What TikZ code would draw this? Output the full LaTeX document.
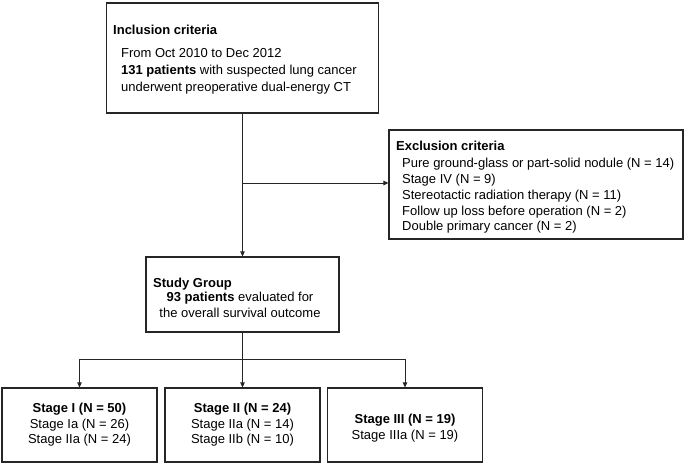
\documentclass[tikz,border=0pt]{standalone}
\usepackage{fontspec}
\setmainfont{Liberation Sans}
\usetikzlibrary{arrows.meta}
\begin{document}
\begin{tikzpicture}[x=1pt,y=-1pt,
  box/.style={draw=black!85, line width=1.2pt, inner sep=0pt},
  txt/.style={inner sep=0pt, font=\fontsize{13}{16}\selectfont},
  conn/.style={draw=black!85, line width=1pt},
  arr/.style={conn, -{Triangle[length=5pt,width=4.5pt]}}]
\useasboundingbox (0,0) rectangle (685,464);
% boxes
\node[box, minimum width=272pt, minimum height=110pt] (inc) at (242.5,58) {};
\node[box, minimum width=294pt, minimum height=109pt] (exc) at (536,184.5) {};
\node[box, minimum width=193pt, minimum height=75pt] (study) at (242.5,294.5) {};
\node[box, minimum width=155pt, minimum height=74pt] (s1) at (79.5,425) {};
\node[box, minimum width=155pt, minimum height=74pt] (s2) at (242.5,425) {};
\node[box, minimum width=155pt, minimum height=74pt] (s3) at (405,425) {};
% texts
\node[txt, anchor=base west] (inct) at (113,34) {\textbf{Inclusion criteria}};
\node[txt, anchor=north west, align=left, font=\fontsize{13}{17}\selectfont] (incb) at (121,48)
  {From Oct 2010 to Dec 2012\\\textbf{131 patients} with suspected lung cancer\\underwent preoperative dual-energy CT};
\node[txt, anchor=base west] (exct) at (396,150) {\textbf{Exclusion criteria}};
\node[txt, anchor=north west, align=left, font=\fontsize{13}{15.8}\selectfont] (excb) at (402,158)
  {Pure ground-glass or part-solid nodule (N = 14)\\Stage IV (N = 9)\\Stereotactic radiation therapy (N = 11)\\Follow up loss before operation (N = 2)\\Double primary cancer (N = 2)};
\node[txt, anchor=base west] (stt) at (153,287) {\textbf{Study Group}};
\node[txt, anchor=north, align=center] (stb) at (240,292)
  {\textbf{93 patients} evaluated for\\the overall survival outcome};
\node[txt, align=center, font=\fontsize{13}{15.5}\selectfont] (s1t) at (s1) {\textbf{Stage I (N = 50)}\\Stage Ia (N = 26)\\Stage IIa (N = 24)};
\node[txt, align=center, font=\fontsize{13}{15.5}\selectfont] (s2t) at (s2) {\textbf{Stage II (N = 24)}\\Stage IIa (N = 14)\\Stage IIb (N = 10)};
\node[txt, align=center, font=\fontsize{13}{15.5}\selectfont] (s3t) at (405,428) {\textbf{Stage III (N = 19)}\\Stage IIIa (N = 19)};
% connectors
\coordinate (j) at (242.5,183);
\coordinate (b) at (242.5,359);
\draw[arr] (inc.south) -- (study.north);
\draw[arr] (j) -- (j -| exc.west);
\draw[conn] (study.south) -- (b);
\draw[conn] (s1.north |- b) -- (s3.north |- b);
\draw[arr] (s1.north |- b) -- (s1.north);
\draw[arr] (b) -- (s2.north);
\draw[arr] (s3.north |- b) -- (s3.north);
\end{tikzpicture}
\end{document}
